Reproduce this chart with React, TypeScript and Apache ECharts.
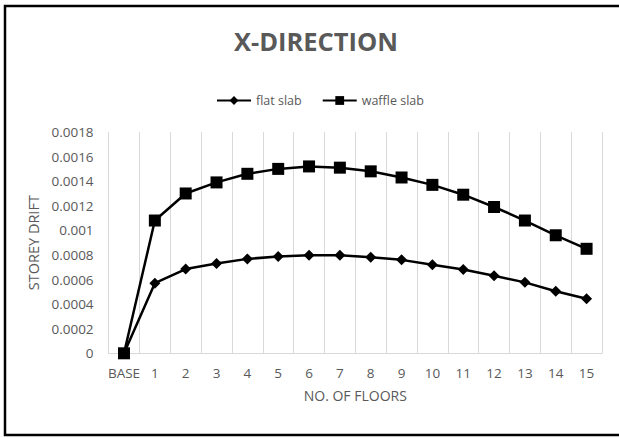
import React, { useEffect, useRef } from "react";
import * as echarts from "echarts";

// Storey labels along the building height
const floors = ["BASE", "1", "2", "3", "4", "5", "6", "7", "8", "9", "10", "11", "12", "13", "14", "15"];

// Storey drift, X-direction
const flatSlab = [0, 0.00057, 0.000685, 0.00073, 0.000768, 0.000787, 0.000798, 0.000798, 0.000782, 0.00076, 0.00072, 0.000682, 0.00063, 0.000577, 0.000505, 0.000443];
const waffleSlab = [0, 0.00108, 0.0013, 0.00139, 0.00146, 0.0015, 0.00152, 0.00151, 0.00148, 0.00143, 0.00137, 0.00129, 0.00119, 0.00108, 0.00096, 0.00085];

const GREY = "#595959";
const FONT = "Open Sans";

export default function App() {
  const ref = useRef<HTMLDivElement>(null);

  useEffect(() => {
    if (!ref.current) return;
    const chart = echarts.init(ref.current, undefined, { renderer: "svg" });
    chart.setOption({
      animation: false,
      backgroundColor: "#ffffff",
      textStyle: { fontFamily: FONT },
      title: {
        text: "X-DIRECTION",
        left: 311,
        top: 23,
        textAlign: "center",
        textStyle: { fontFamily: FONT, fontSize: 25.5, fontWeight: "bold", color: GREY },
      },
      legend: {
        top: 89,
        left: 211,
        itemWidth: 34,
        itemHeight: 11,
        itemGap: 20,
        textStyle: { fontFamily: FONT, fontSize: 12.5, color: GREY },
        data: ["flat slab", "waffle slab"],
      },
      graphic: [
        {
          type: "rect",
          shape: { x: 5, y: 6, width: 640, height: 429 },
          style: { fill: "none", stroke: "#000000", lineWidth: 2.5 },
          silent: true,
        },
      ],
      grid: { left: 108.6, right: 17, top: 132, bottom: 84.7 },
      xAxis: {
        type: "category",
        data: floors,
        boundaryGap: true,
        name: "NO. OF FLOORS",
        nameLocation: "middle",
        nameGap: 35,
        nameTextStyle: { fontFamily: FONT, fontSize: 14, color: GREY },
        axisLine: { lineStyle: { color: "#d9d9d9", width: 1 } },
        axisTick: { show: false },
        axisLabel: { color: GREY, fontSize: 13.5, fontFamily: FONT, margin: 13, interval: 0 },
        splitLine: { show: true, lineStyle: { color: "#d9d9d9", width: 1 } },
      },
      yAxis: {
        type: "value",
        min: 0,
        max: 0.0018,
        interval: 0.0002,
        name: "STOREY DRIFT",
        nameLocation: "middle",
        nameGap: 62,
        nameTextStyle: { fontFamily: FONT, fontSize: 14.5, color: GREY },
        axisLine: { show: false },
        axisTick: { show: false },
        splitLine: { show: false },
        axisLabel: {
          color: GREY,
          fontSize: 13.5,
          fontFamily: FONT,
          margin: 15,
          formatter: (v: number) => String(parseFloat(v.toPrecision(6))),
        },
      },
      series: [
        {
          name: "flat slab",
          type: "line",
          data: flatSlab,
          symbol: "diamond",
          symbolSize: 11,
          color: "#000000",
          lineStyle: { color: "#000000", width: 2.5 },
          itemStyle: { color: "#000000" },
        },
        {
          name: "waffle slab",
          type: "line",
          data: waffleSlab,
          symbol: "rect",
          symbolSize: 12,
          color: "#000000",
          lineStyle: { color: "#000000", width: 2.5 },
          itemStyle: { color: "#000000" },
        },
      ],
    });
    return () => chart.dispose();
  }, []);

  return (
    <div
      ref={ref}
      style={{ position: "fixed", left: 0, top: 0, width: 619, height: 438, background: "#fff" }}
    />
  );
}
